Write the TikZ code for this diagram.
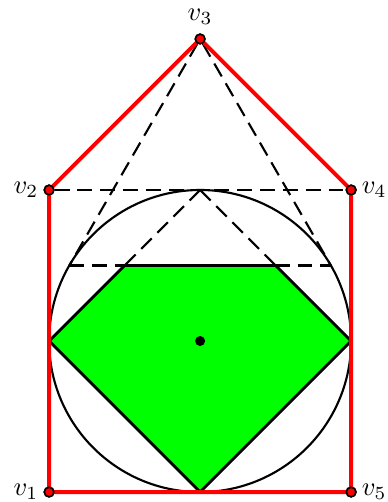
\documentclass[tikz,border=0pt]{standalone}
\begin{document}
\begin{tikzpicture}[x=2cm,y=2cm,
  vtx/.style={circle,draw=black,fill=red,inner sep=0pt,minimum size=3.6pt,line width=0.6pt},
  ctr/.style={circle,fill=black,inner sep=0pt,minimum size=3.8pt},
  dsh/.style={dashed,dash pattern=on 5.6pt off 3pt,line width=0.8pt},
  redline/.style={red,line width=1.5pt}]
\useasboundingbox (-1.325,-1.066) rectangle (1.238,2.258);
\coordinate (L) at (-1,0);
\coordinate (R) at (1,0);
\coordinate (B) at (0,-1);
\coordinate (TL) at (-0.5,0.5);
\coordinate (TR) at (0.5,0.5);
\coordinate (T) at (0,1);
\coordinate (CL) at (-0.866,0.5);
\coordinate (CR) at (0.866,0.5);
\fill[green] (L) -- (TL) -- (TR) -- (R) -- (B) -- cycle;
\draw[line width=1.1pt,line join=miter] (L) -- (TL) -- (TR) -- (R) -- (B) -- cycle;
\node[ctr] (O) at (0,0) {};
\draw[line width=0.8pt] (O) circle[radius=1];
\node[vtx] (v1) at (-1,-1) {};
\node[vtx] (v2) at (-1,1) {};
\node[vtx] (v3) at (0,2) {};
\node[vtx] (v4) at (1,1) {};
\node[vtx] (v5) at (1,-1) {};
\draw[dsh] (v2) -- (v4);
\draw[dsh] (CL) -- (CR);
\draw[dsh] (v3) -- (CL);
\draw[dsh] (v3) -- (CR);
\draw[dsh] (T) -- (TL);
\draw[dsh] (T) -- (TR);
\draw[redline] (v1.center) -- (v2.center) -- (v3.center) -- (v4.center) -- (v5.center) -- cycle;
\node[vtx] at (v1) {};
\node[vtx] at (v2) {};
\node[vtx] at (v3) {};
\node[vtx] at (v4) {};
\node[vtx] at (v5) {};
\node[left=0.5pt] at (v1) {$v_1$};
\node[left=0.5pt] at (v2) {$v_2$};
\node[above=2pt] at (v3) {$v_3$};
\node[right=0.5pt] at (v4) {$v_4$};
\node[right=0.5pt] at (v5) {$v_5$};
\end{tikzpicture}
\end{document}
